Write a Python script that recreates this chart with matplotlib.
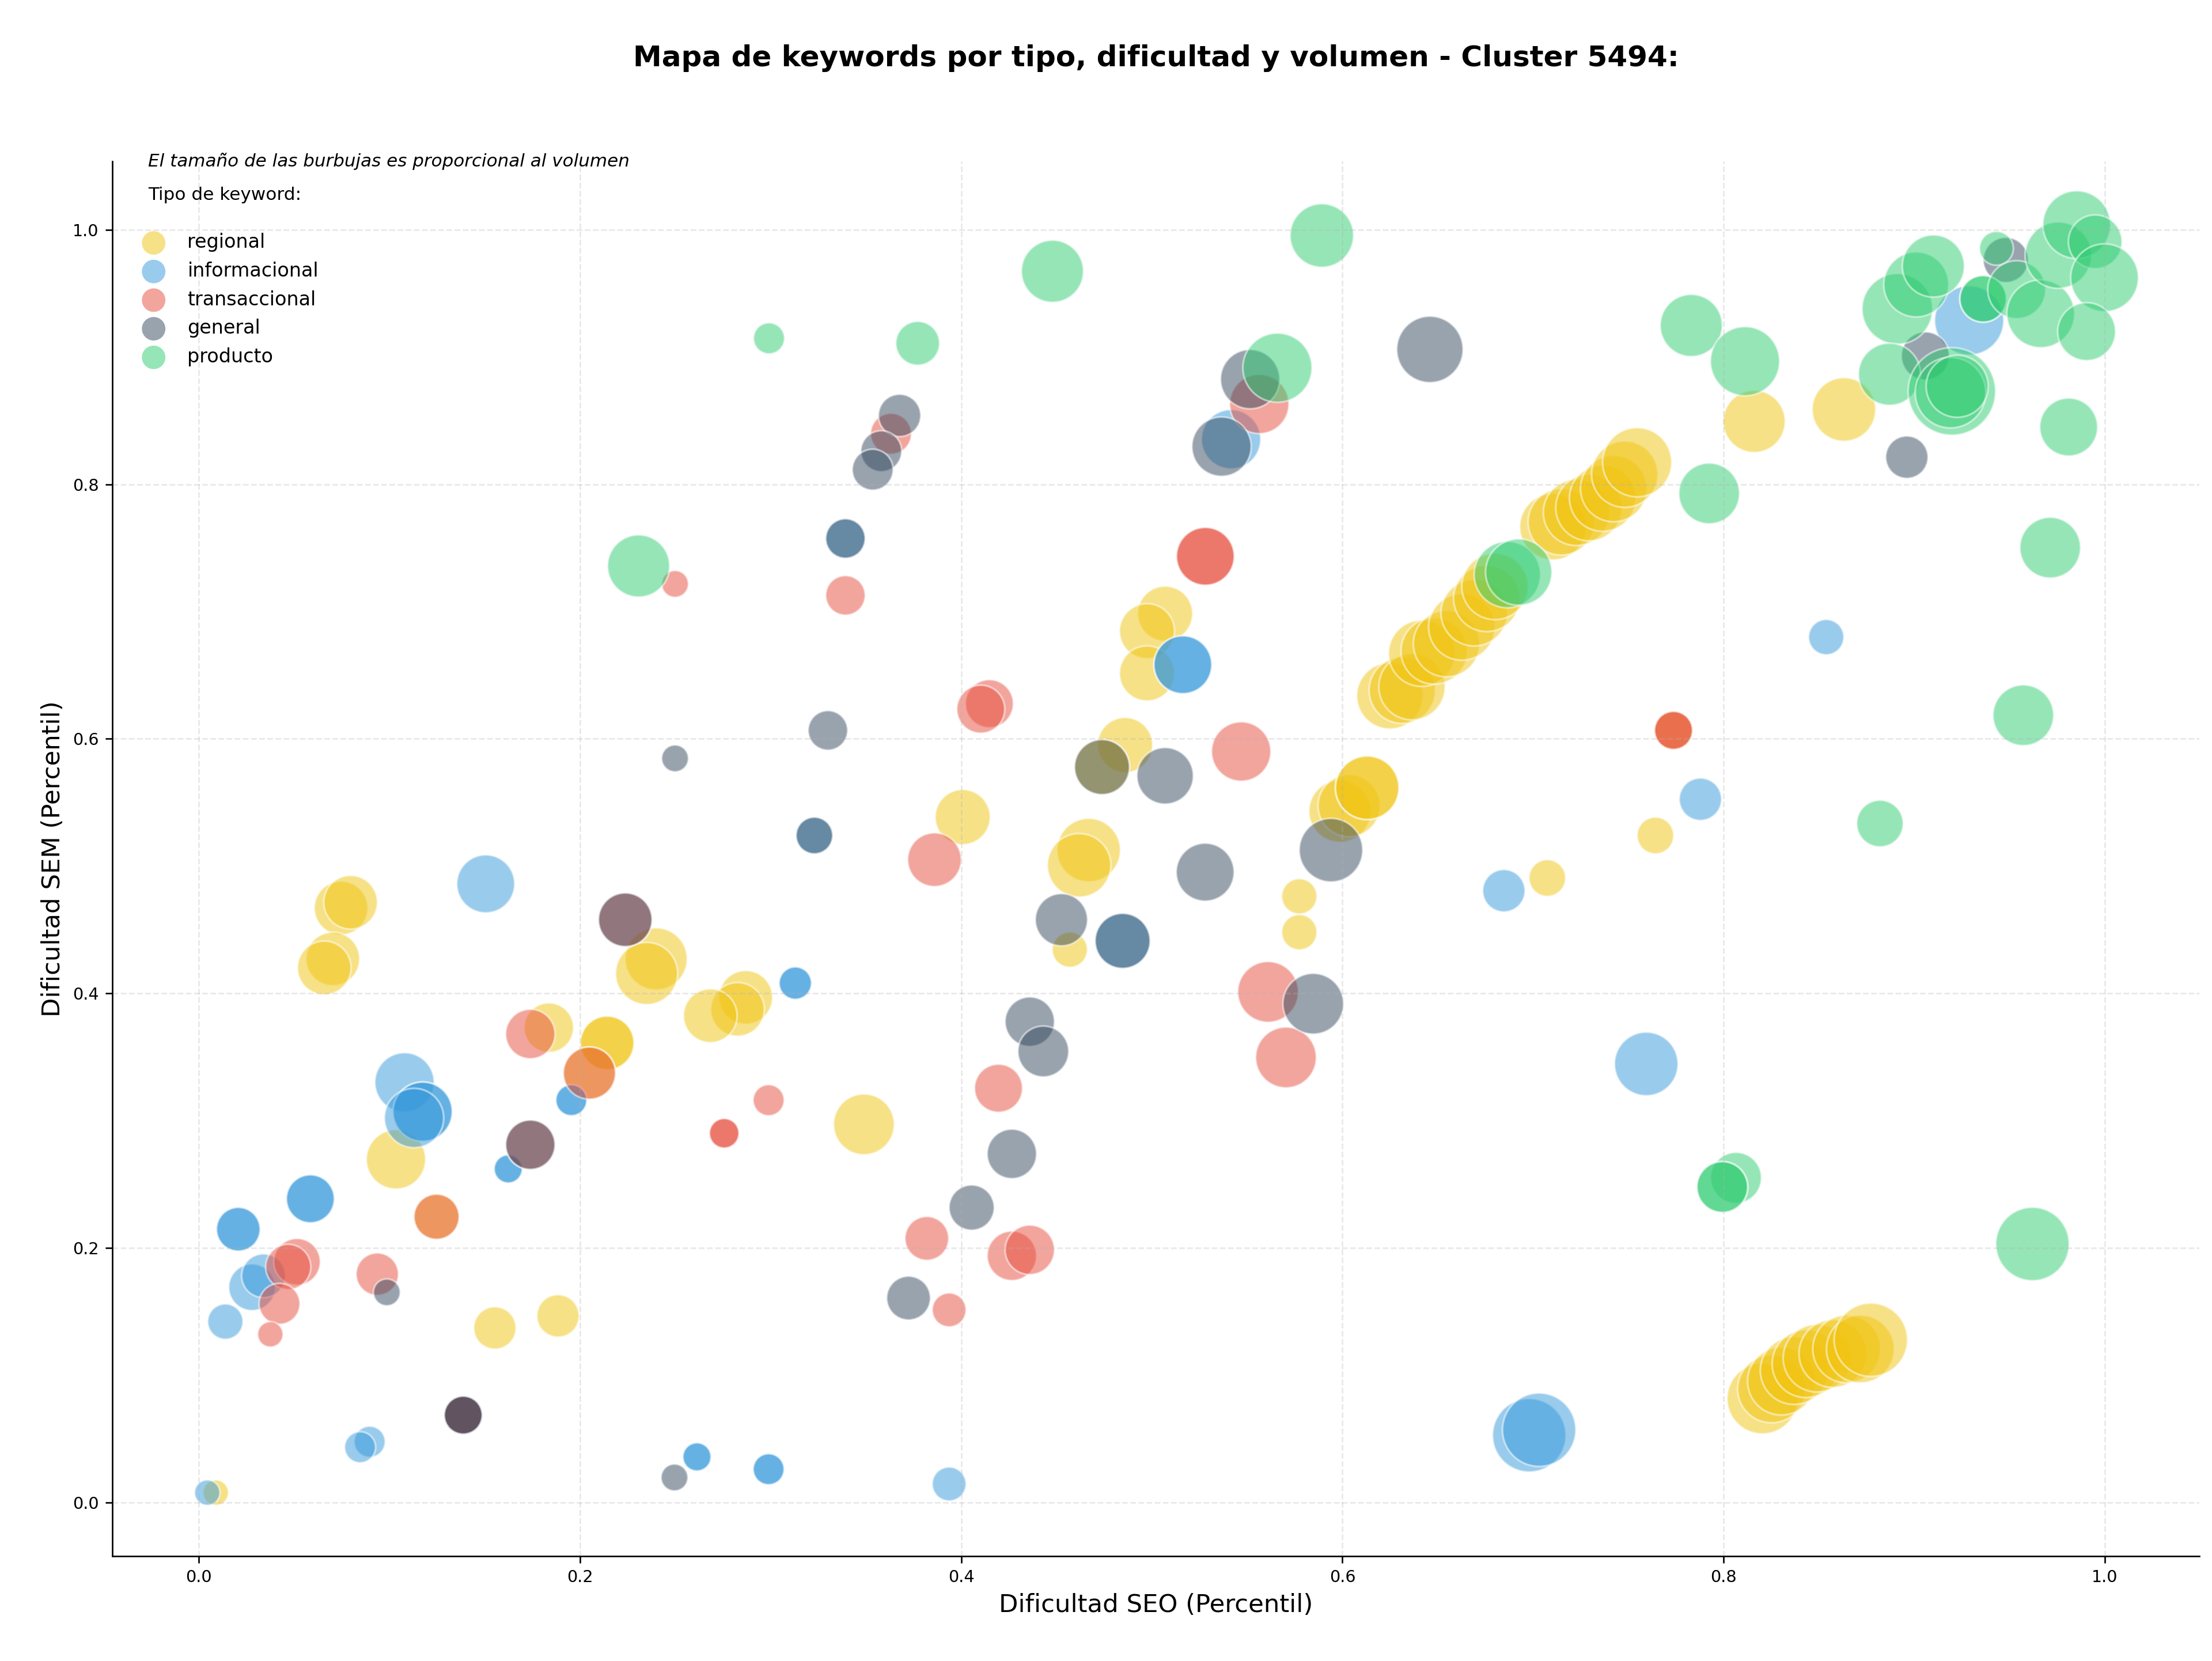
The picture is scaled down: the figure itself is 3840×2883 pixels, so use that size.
import numpy as np
import matplotlib
matplotlib.use("Agg")
import matplotlib.pyplot as plt

# datos: dificultad SEO, dificultad SEM y volumen por tipo
reg_x = [0.0747, 0.0797, 0.0704, 0.0659, 0.240, 0.235, 0.287, 0.2827, 0.2684, 0.1837,
         0.2143, 0.2143, 0.205, 0.1035, 0.349, 0.1248, 0.1554, 0.1885, 0.009, 0.5774,
         0.5774, 0.457, 0.7075, 0.8203, 0.8251, 0.8303, 0.837, 0.8432, 0.849, 0.8573,
         0.8645, 0.8717, 0.8772, 0.507, 0.4975, 0.4975, 0.486, 0.4739, 0.4008, 0.4669,
         0.4619, 0.5987, 0.6035, 0.613, 0.613, 0.6249, 0.6314, 0.6365, 0.6416, 0.6481,
         0.6546, 0.6626, 0.6691, 0.6757, 0.680, 0.7104, 0.7148, 0.7228, 0.7293, 0.7365,
         0.7423, 0.7481, 0.7546, 0.816, 0.8631, 0.7642, 0.7737]
reg_y = [0.467, 0.4715, 0.427, 0.420, 0.427, 0.4156, 0.3968, 0.3874, 0.3824, 0.373,
         0.361, 0.361, 0.3373, 0.2695, 0.297, 0.2244, 0.137, 0.1465, 0.0076, 0.4762,
         0.448, 0.4343, 0.4906, 0.0815, 0.0891, 0.0952, 0.1035, 0.1089, 0.1133, 0.1169,
         0.1205, 0.1205, 0.1277, 0.6983, 0.6846, 0.6514, 0.5951, 0.5778, 0.5385, 0.5125,
         0.5006, 0.5431, 0.5474, 0.5615, 0.5615, 0.6338, 0.6381, 0.6409, 0.6672, 0.669,
         0.6747, 0.6878, 0.699, 0.7103, 0.7197, 0.7666, 0.7704, 0.7779, 0.7816, 0.7891,
         0.7966, 0.8079, 0.8173, 0.8494, 0.8588, 0.524, 0.6066]
reg_vol = [1444, 1444, 1444, 1444, 1936, 1936, 1444, 1444, 1444, 1225,
           1444, 1444, 1369, 1764, 1849, 1024, 900, 900, 324, 625,
           625, 625, 676, 2500, 2304, 2304, 2304, 2304, 2304, 2304,
           2304, 2304, 2704, 1521, 1521, 1521, 1521, 1521, 1521, 2025,
           2025, 1936, 1936, 2025, 2025, 2209, 2209, 2209, 2209, 2209,
           2209, 2209, 2209, 2209, 2209, 2209, 2209, 2209, 2209, 2209,
           2209, 2209, 2401, 1936, 2025, 676, 729]

inf_x = [0.1506, 0.313, 0.313, 0.1955, 0.1955, 0.108, 0.1175, 0.1175, 0.113, 0.1624,
         0.1624, 0.0586, 0.0586, 0.0208, 0.0208, 0.028, 0.034, 0.014, 0.0897, 0.0847,
         0.0045, 0.2614, 0.2614, 0.299, 0.299, 0.3937, 0.698, 0.7032, 0.6847, 0.7594,
         0.4847, 0.5163, 0.5163, 0.5416, 0.3393, 0.323, 0.8538, 0.7878, 0.9288]
inf_y = [0.486, 0.408, 0.408, 0.316, 0.316, 0.330, 0.307, 0.307, 0.302, 0.262,
         0.262, 0.2385, 0.2385, 0.2146, 0.2146, 0.169, 0.178, 0.142, 0.0476, 0.0433,
         0.0076, 0.0357, 0.0357, 0.026, 0.026, 0.0144, 0.0527, 0.057, 0.4806, 0.3445,
         0.4412, 0.6582, 0.6582, 0.8354, 0.7574, 0.524, 0.6799, 0.5525, 0.9288]
inf_vol = [1681, 529, 529, 484, 484, 1764, 1764, 1764, 1764, 400,
           400, 1156, 1156, 961, 961, 1089, 961, 625, 484, 484,
           324, 400, 400, 484, 484, 576, 2704, 2704, 900, 2025,
           1521, 1681, 1681, 1764, 784, 676, 625, 900, 2401]

tra_x = [0.2238, 0.174, 0.205, 0.174, 0.299, 0.2757, 0.2757, 0.1248, 0.0937, 0.0516,
         0.047, 0.0424, 0.0376, 0.1388, 0.1388, 0.386, 0.561, 0.5704, 0.4196, 0.382,
         0.4266, 0.436, 0.3937, 0.5564, 0.3632, 0.3393, 0.5281, 0.5281, 0.4148, 0.4103,
         0.5469, 0.2499, 0.7737, 0.7737]
tra_y = [0.4578, 0.368, 0.3373, 0.281, 0.316, 0.290, 0.290, 0.2244, 0.1793, 0.189,
         0.185, 0.156, 0.132, 0.0685, 0.0685, 0.505, 0.4011, 0.3496, 0.3254, 0.2074,
         0.1937, 0.1984, 0.1512, 0.8631, 0.8397, 0.7127, 0.7434, 0.7434, 0.6276, 0.6233,
         0.590, 0.7217, 0.6066, 0.6066]
tra_vol = [1444, 1225, 1369, 1225, 484, 441, 441, 1024, 900, 1089,
           1024, 841, 324, 729, 729, 1444, 1849, 1849, 1156, 961,
           1225, 1225, 576, 1764, 841, 784, 1681, 1681, 1156, 1156,
           1764, 361, 729, 729]

gen_x = [0.2238, 0.174, 0.0987, 0.1388, 0.1388, 0.2496, 0.528, 0.594, 0.4526, 0.4847,
         0.5847, 0.436, 0.4431, 0.4266, 0.4055, 0.3724, 0.6459, 0.5516, 0.5366,
         0.3677, 0.3581, 0.3536, 0.3393, 0.3301, 0.4739, 0.507, 0.323, 0.2499, 0.8961,
         0.9058, 0.948]
gen_y = [0.4578, 0.281, 0.165, 0.0685, 0.0685, 0.0195, 0.4952, 0.5125, 0.4578, 0.4412,
         0.3918, 0.3777, 0.3543, 0.2738, 0.2316, 0.1605, 0.906, 0.8826, 0.8296,
         0.8541, 0.826, 0.8115, 0.7574, 0.6066, 0.5778, 0.5709, 0.524, 0.5846, 0.8213,
         0.9009, 0.9763]
gen_vol = [1444, 1225, 361, 729, 729, 361, 1681, 2025, 1369, 1521,
           1849, 1225, 1296, 1225, 1024, 961, 2209, 1764, 1764,
           900, 841, 841, 784, 784, 1521, 1600, 676, 361, 900,
           1156, 1024]

pro_x = [0.2308, 0.2992, 0.3772, 0.4479, 0.5892, 0.5659, 0.6865, 0.6925, 0.783, 0.8112,
         0.7924, 0.981, 0.9713, 0.9572, 0.882, 0.8065, 0.7993, 0.7993, 0.962, 0.8911,
         0.901, 0.910, 0.887, 0.9197, 0.919, 0.9225, 0.9361, 0.9361, 0.9431, 0.9537,
         0.9663, 0.9755, 0.9852, 0.9949, 0.9998, 0.9904]
pro_y = [0.7358, 0.9147, 0.9108, 0.9674, 0.9955, 0.8916, 0.729, 0.731, 0.9248, 0.8967,
         0.7928, 0.845, 0.7502, 0.6185, 0.5334, 0.255, 0.2478, 0.2478, 0.203, 0.9378,
         0.957, 0.9715, 0.8865, 0.873, 0.872, 0.877, 0.9457, 0.9457, 0.9854, 0.953,
         0.934, 0.980, 1.004, 0.9906, 0.9623, 0.920]
pro_vol = [1936, 484, 961, 1936, 2025, 2401, 2209, 2209, 1936, 2401,
           1849, 1681, 1849, 1849, 1089, 1296, 1296, 1296, 2704, 2500,
           2116, 1936, 1936, 3844, 2500, 1936, 1089, 1089, 576, 1681,
           2304, 2209, 2304, 1444, 2304, 1681]

tipos = ['regional', 'informacional', 'transaccional', 'general', 'producto']
colores = ['#f1c40f', '#3498db', '#e74c3c', '#34495e', '#2ecc71']
datos = [(reg_x, reg_y, reg_vol), (inf_x, inf_y, inf_vol), (tra_x, tra_y, tra_vol),
         (gen_x, gen_y, gen_vol), (pro_x, pro_y, pro_vol)]

fig = plt.figure(figsize=(16, 12.0125))
ax = fig.add_axes([0.0508, 0.0632, 0.9435, 0.8397])

for (xs, ys, vol), col in zip(datos, colores):
    ax.scatter(xs, ys, s=np.array(vol) * 0.54, c=col, alpha=0.5,
               edgecolors='white', linewidths=1)

ax.grid(True, linestyle='--', alpha=0.3)
ax.spines['top'].set_visible(False)
ax.spines['right'].set_visible(False)
ax.tick_params(labelsize=8.6)
ax.set_xlabel('Dificultad SEO (Percentil)', fontsize=13)
ax.set_ylabel('Dificultad SEM (Percentil)', fontsize=13)

fig.text(0.5226, 0.965, 'Mapa de keywords por tipo, dificultad y volumen - Cluster 5494:',
         ha='center', va='center', fontsize=15, fontweight='bold')

ax.text(0.017, 1.0, 'El tamaño de las burbujas es proporcional al volumen',
        transform=ax.transAxes, fontsize=9.3, style='italic', va='center')
ax.text(0.017, 0.976, 'Tipo de keyword:', transform=ax.transAxes, fontsize=9.35, va='center')

handles = [ax.scatter([], [], s=150, c=col, alpha=0.5, edgecolors='none', label=t)
           for t, col in zip(tipos, colores)]
ax.legend(handles=handles, loc='upper left', bbox_to_anchor=(0.0023, 0.961),
          frameon=False, fontsize=10, labelspacing=0.5, handletextpad=0.76)

fig.savefig('out.png', dpi=240)
